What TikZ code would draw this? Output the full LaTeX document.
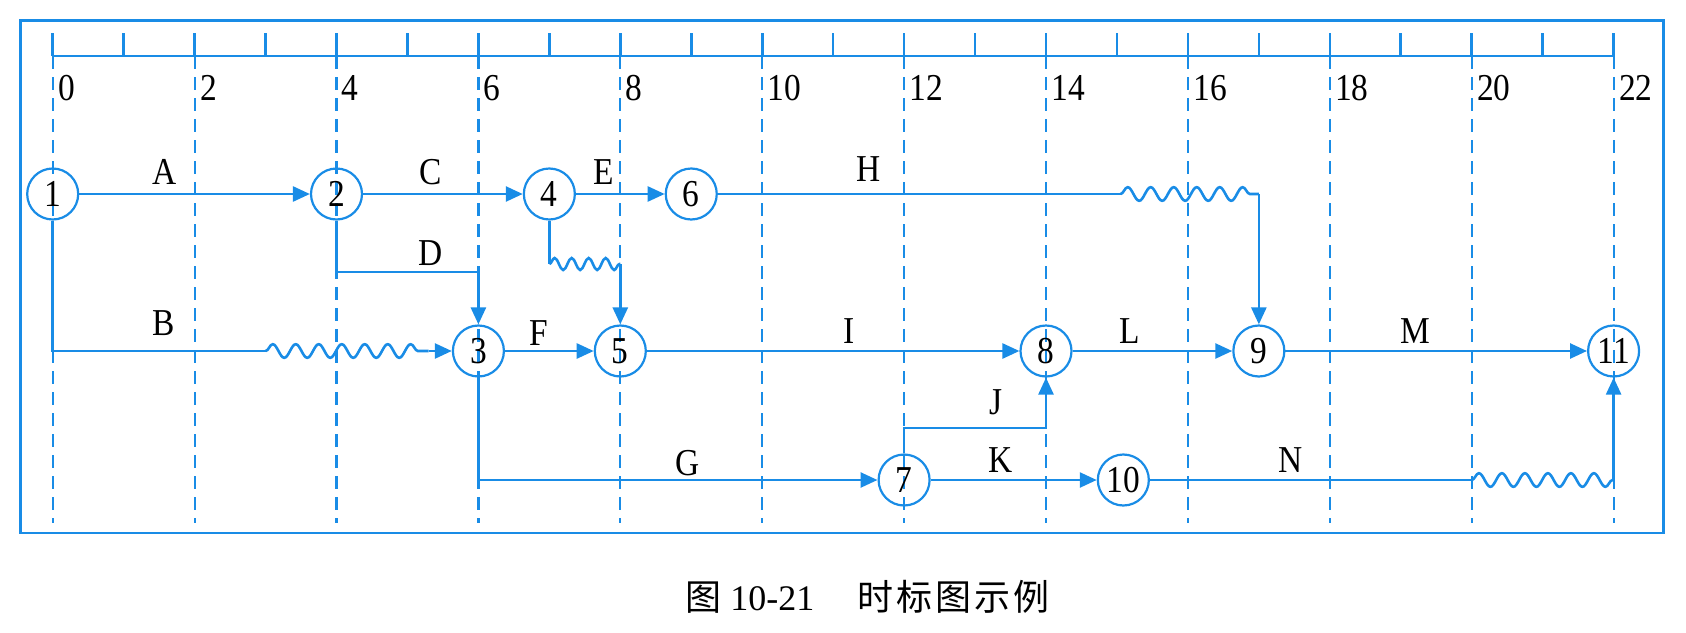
\documentclass[tikz,border=0pt]{standalone}
\usepackage{fontspec}
\setmainfont{Liberation Serif}[FakeStretch=0.88]
\newfontfamily\capfont{Liberation Serif}
\newfontfamily\cjk{Noto Sans CJK SC}
\usetikzlibrary{arrows.meta,decorations.pathmorphing}
\definecolor{lb}{RGB}{25,140,230}
\begin{document}
\begin{tikzpicture}[x=35.475pt,y=-0.5pt,font=\fontsize{19}{22}\selectfont,
  ln/.style={draw=lb,line width=1.3pt},
  arr/.style={ln,-{Triangle[length=8.5pt,width=7.5pt]}},
  wav/.style={ln,decorate,decoration={snake,amplitude=3.4pt,segment length=11.5pt}},
  swav/.style={ln,decorate,decoration={snake,amplitude=3pt,segment length=8.5pt}},
  gridln/.style={draw=lb,line width=1.1pt,dash pattern=on 6.5pt off 4pt},
  ev/.style={circle,draw=lb,line width=1.1pt,minimum size=25.5pt,inner sep=0pt},
  lab/.style={inner sep=0pt}]
\useasboundingbox (-0.7428,0) rectangle (23.0205,632);
% frame
\draw[ln] (-0.451,20.5) rectangle (22.706,533);
% ruler
\draw[ln] (0,56) -- (22,56);
\foreach \i in {0,...,22} \draw[ln] (\i,33) -- (\i,56);
\foreach \i in {0,2,...,22} {
  \draw[gridln] (\i,56) -- (\i,523);
  \node[lab,anchor=west,xshift=2.5pt] (t\i) at (\i,88) {\i};
}
% events
\node[ev] (n1) at (0,194) {1};
\node[ev] (n2) at (4,194) {2};
\node[ev] (n4) at (7,194) {4};
\node[ev] (n6) at (9,194) {6};
\node[ev] (n3) at (6,351) {3};
\node[ev] (n5) at (8,351) {5};
\node[ev] (n8) at (14,351) {8};
\node[ev] (n9) at (17,351) {9};
\node[ev] (n11) at (22,351) {11};
\node[ev] (n7) at (12,480) {7};
\node[ev] (n10) at (15.09,480) {10};
% helper points
\coordinate (b1) at (3,351); \coordinate (b2) at (5.3,351);
\coordinate (d1) at (6,272);
\coordinate (w1) at (7,264); \coordinate (w2) at (8,264);
\coordinate (h1) at (15.05,194); \coordinate (h2) at (17,194);
\coordinate (j1) at (14,428);
\coordinate (k1) at (20,480); \coordinate (k2) at (22,480);
% activities
\draw[arr] (n1) -- (n2);
\draw[ln] (n1) |- (b1);
\draw[wav] (b1) -- (b2);
\draw[arr] (b2) -- (n3);
\draw[arr] (n2) -- (n4);
\draw[arr] (n2) |- (d1) -- (n3);
\draw[arr] (n4) -- (n6);
\draw[ln] (n4) -- (w1);
\draw[swav] (w1) -- (w2);
\draw[arr] (w2) -- (n5);
\draw[arr] (n3) -- (n5);
\draw[arr] (n3) |- (n7);
\draw[ln] (n6) -- (h1);
\draw[wav] (h1) -- (h2);
\draw[arr] (h2) -- (n9);
\draw[arr] (n5) -- (n8);
\draw[arr] (n7) |- (j1) -- (n8);
\draw[arr] (n7) -- (n10);
\draw[arr] (n8) -- (n9);
\draw[arr] (n9) -- (n11);
\draw[ln] (n10) -- (k1);
\draw[wav] (k1) -- (k2);
\draw[arr] (k2) -- (n11);
% labels
\node[lab] (lA) at (1.58,172) {A};
\node[lab] (lB) at (1.57,323) {B};
\node[lab] (lC) at (5.33,172) {C};
\node[lab] (lD) at (5.32,253) {D};
\node[lab] (lE) at (7.76,172) {E};
\node[lab] (lF) at (6.85,333) {F};
\node[lab] (lG) at (8.95,463) {G};
\node[lab] (lH) at (11.5,169) {H};
\node[lab] (lI) at (11.22,331) {I};
\node[lab] (lJ) at (13.3,402) {J};
\node[lab] (lK) at (13.36,460) {K};
\node[lab] (lL) at (15.18,331) {L};
\node[lab] (lM) at (19.2,331) {M};
\node[lab] (lN) at (17.45,460) {N};
% caption
\node[lab,font=\capfont\fontsize{18}{21}\selectfont] (cap) at (11.484,597) {{\cjk 图} 10-21\hspace{1.2em}{\cjk 时\hspace{1.5pt}标\hspace{1.5pt}图\hspace{1.5pt}示\hspace{1.5pt}例}};
\end{tikzpicture}
\end{document}
